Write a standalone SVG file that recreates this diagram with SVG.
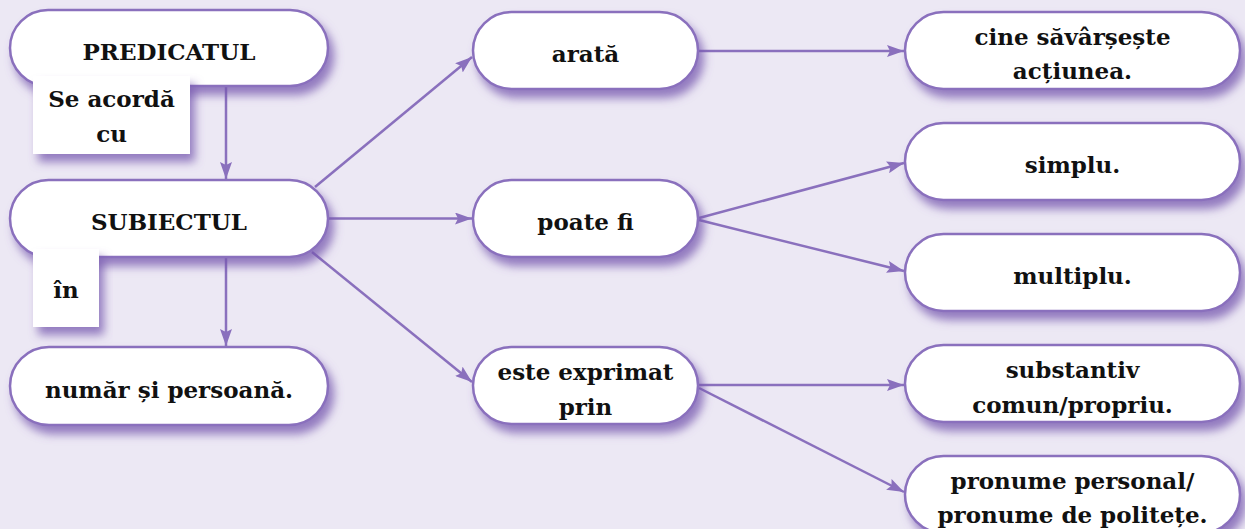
<svg xmlns="http://www.w3.org/2000/svg" width="1245" height="529" viewBox="0 0 1245 529">
<defs>
<style>
.node rect{fill:#ffffff;stroke:#8A70BD;stroke-width:2.5;filter:url(#sh)}
.lbl rect{fill:#ffffff;filter:url(#sh)}
text{font-family:"DejaVu Serif","Liberation Serif",serif;font-weight:bold;font-size:23px;fill:#111111;text-anchor:middle}
.conn line{stroke:#8A70BD;stroke-width:2.5;fill:none;marker-end:url(#ah)}
</style>
<filter id="sh" x="-20%" y="-30%" width="140%" height="170%">
<feDropShadow dx="5" dy="8" stdDeviation="5" flood-color="#7457AE" flood-opacity="0.75"/>
</filter>
<marker id="ah" markerUnits="userSpaceOnUse" markerWidth="18" markerHeight="12" refX="17" refY="6" orient="auto">
<path d="M0,0 L17,6 L0,12 L3,6 z" fill="#8A70BD"/>
</marker>
</defs>
<rect x="0" y="0" width="1245" height="529" fill="#ECE8F4"/>
<g id="connectors" class="conn">
<line x1="226" y1="87" x2="226" y2="179"/>
<line x1="226" y1="258" x2="226" y2="346"/>
<line x1="315" y1="187" x2="472" y2="57"/>
<line x1="329" y1="218.5" x2="472" y2="218.5"/>
<line x1="312" y1="252" x2="472" y2="382"/>
<line x1="699" y1="51" x2="904" y2="51"/>
<line x1="699" y1="218" x2="904" y2="163"/>
<line x1="699" y1="220" x2="904" y2="271"/>
<line x1="699" y1="385" x2="904" y2="385"/>
<line x1="699" y1="388" x2="904" y2="492"/>
</g>
<g id="predicatul" class="node"><rect x="10" y="10" width="318" height="76" rx="38"/><text x="169" y="59.5">PREDICATUL</text></g>
<g id="subiectul" class="node"><rect x="10" y="180" width="318" height="77" rx="38.5"/><text x="169" y="229.5">SUBIECTUL</text></g>
<g id="numar" class="node"><rect x="10" y="347" width="318" height="78" rx="39"/><text x="169" y="397.5">număr și persoană.</text></g>
<g id="arata" class="node"><rect x="473" y="12" width="225" height="77" rx="38.5"/><text x="585.5" y="62">arată</text></g>
<g id="poate" class="node"><rect x="473" y="180" width="225" height="77" rx="38.5"/><text x="585.5" y="230">poate fi</text></g>
<g id="exprimat" class="node"><rect x="473" y="347" width="225" height="77" rx="38.5"/><text x="585.5" y="380">este exprimat</text><text x="585.5" y="415">prin</text></g>
<g id="cine" class="node"><rect x="905" y="12" width="335" height="77" rx="38.5"/><text x="1072.5" y="45">cine săvârșește</text><text x="1072.5" y="79">acțiunea.</text></g>
<g id="simplu" class="node"><rect x="905" y="123" width="335" height="77" rx="38.5"/><text x="1072.5" y="173">simplu.</text></g>
<g id="multiplu" class="node"><rect x="905" y="234" width="335" height="77" rx="38.5"/><text x="1072.5" y="284">multiplu.</text></g>
<g id="substantiv" class="node"><rect x="905" y="345" width="335" height="77" rx="38.5"/><text x="1072.5" y="378">substantiv</text><text x="1072.5" y="413">comun/propriu.</text></g>
<g id="pronume" class="node"><rect x="905" y="456" width="335" height="77" rx="38.5"/><text x="1072.5" y="489">pronume personal/</text><text x="1072.5" y="523">pronume de politețe.</text></g>
<g id="label-se-acorda" class="lbl"><rect x="33" y="76" width="157" height="78"/><text x="111.5" y="107">Se acordă</text><text x="111.5" y="142">cu</text></g>
<g id="label-in" class="lbl"><rect x="33" y="249" width="66" height="78"/><text x="66" y="298">în</text></g>
</svg>
